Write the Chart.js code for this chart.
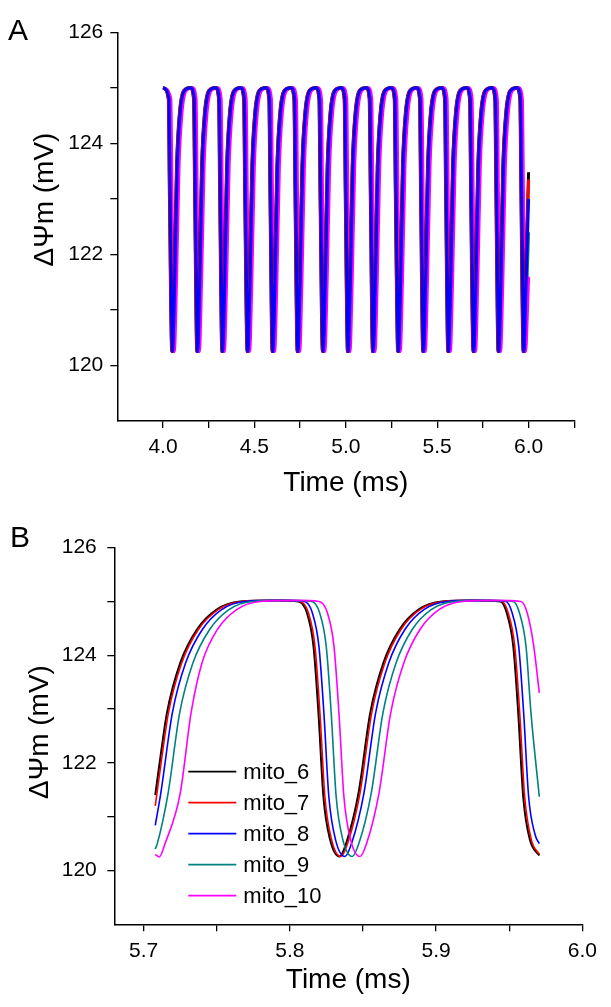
<!DOCTYPE html>
<html>
<head>
<meta charset="utf-8">
<script src="https://cdn.jsdelivr.net/npm/chart.js@4.4.1/dist/chart.umd.min.js"></script>
<style>
  html, body { margin: 0; padding: 0; background: #fff; }
  canvas { display: block; }
</style>
</head>
<body>
<canvas id="chartA" width="611" height="505"></canvas>
<canvas id="chartB" width="611" height="502"></canvas>
<script>
const seriesNames = ['mito_6', 'mito_7', 'mito_8', 'mito_9', 'mito_10'];
const seriesColors = ['#000000', '#ff0000', '#0000ff', '#008080', '#ff00ff'];
// stacking of the traces in panel A (lower = drawn on top)
const drawOrderA = [2, 1, 0, 4, 3];

const yTickVals = [120, 121, 122, 123, 124, 125, 126];
const yLabels = [120, 122, 124, 126];
const xTicksA = [4.0, 4.25, 4.5, 4.75, 5.0, 5.25, 5.5, 5.75, 6.0, 6.25];
const xTicksB = [5.7, 5.75, 5.8, 5.85, 5.9, 5.95, 6.0];

// Panel A: values (same sequence for every series), then each series' own times
const vA = [125.0, 124.8, 123.1,
  120.25, 121.5, 123.6, 124.55, 124.95, 125.0, 124.8, 123.1,
  120.25, 121.5, 123.6, 124.55, 124.95, 125.0, 124.8, 123.1,
  120.25, 121.5, 123.6, 124.55, 124.95, 125.0, 124.8, 123.1,
  120.25, 121.5, 123.6, 124.55, 124.95, 125.0, 124.8, 123.1,
  120.25, 121.5, 123.6, 124.55, 124.95, 125.0, 124.8, 123.1,
  120.25, 121.5, 123.6, 124.55, 124.95, 125.0, 124.8, 123.1,
  120.25, 121.5, 123.6, 124.55, 124.95, 125.0, 124.8, 123.1,
  120.25, 121.5, 123.6, 124.55, 124.95, 125.0, 124.8, 123.1,
  120.25, 121.5, 123.6, 124.55, 124.95, 125.0, 124.8, 123.1,
  120.25, 121.5, 123.6, 124.55, 124.95, 125.0, 124.8, 123.1,
  120.25, 121.5, 123.6, 124.55, 124.95, 125.0, 124.8, 123.1,
  120.25, 121.5, 123.6, 124.55, 124.95, 125.0, 124.8, 123.1,
  120.25, 121.5, 123.6, 124.55, 124.95, 125.0, 124.8, 123.1,
  120.25, 121.5, 123.6, 124.55, 124.95, 125.0, 124.8, 123.1,
  120.25];
// last two values of each series (end of trace at 6.0 ms)
const vTailA = [[121.5, 123.48], [121.5, 123.35], [121.5, 123.0], [121.5, 122.4], [120.9, 121.6]];

const tA6 = [4.000, 4.029, 4.035,
  4.048, 4.060, 4.074, 4.090, 4.113, 4.148, 4.167, 4.173,
  4.185, 4.197, 4.211, 4.227, 4.250, 4.285, 4.304, 4.310,
  4.322, 4.334, 4.348, 4.364, 4.387, 4.422, 4.441, 4.447,
  4.460, 4.472, 4.486, 4.502, 4.525, 4.560, 4.579, 4.585,
  4.597, 4.609, 4.623, 4.639, 4.662, 4.697, 4.716, 4.722,
  4.734, 4.746, 4.760, 4.776, 4.799, 4.834, 4.853, 4.859,
  4.872, 4.884, 4.898, 4.914, 4.937, 4.972, 4.991, 4.997,
  5.009, 5.021, 5.035, 5.051, 5.074, 5.109, 5.128, 5.134,
  5.146, 5.158, 5.172, 5.188, 5.211, 5.246, 5.265, 5.271,
  5.284, 5.296, 5.310, 5.326, 5.349, 5.384, 5.403, 5.409,
  5.421, 5.433, 5.447, 5.463, 5.486, 5.521, 5.540, 5.546,
  5.558, 5.570, 5.584, 5.600, 5.623, 5.658, 5.677, 5.683,
  5.696, 5.708, 5.722, 5.738, 5.761, 5.796, 5.815, 5.821,
  5.833, 5.845, 5.859, 5.875, 5.898, 5.933, 5.952, 5.958,
  5.970, 5.982, 6.000];
const tA7 = [4.000, 4.030, 4.036,
  4.049, 4.061, 4.075, 4.091, 4.114, 4.149, 4.168, 4.174,
  4.186, 4.198, 4.212, 4.228, 4.251, 4.286, 4.305, 4.311,
  4.323, 4.335, 4.349, 4.365, 4.388, 4.423, 4.442, 4.448,
  4.461, 4.473, 4.487, 4.503, 4.526, 4.561, 4.580, 4.586,
  4.598, 4.610, 4.624, 4.640, 4.663, 4.698, 4.717, 4.723,
  4.735, 4.747, 4.761, 4.777, 4.800, 4.835, 4.854, 4.860,
  4.873, 4.885, 4.899, 4.915, 4.938, 4.973, 4.992, 4.998,
  5.010, 5.022, 5.036, 5.052, 5.075, 5.110, 5.129, 5.135,
  5.147, 5.159, 5.173, 5.189, 5.212, 5.247, 5.266, 5.272,
  5.285, 5.297, 5.311, 5.327, 5.350, 5.385, 5.404, 5.410,
  5.422, 5.434, 5.448, 5.464, 5.487, 5.522, 5.541, 5.547,
  5.559, 5.571, 5.585, 5.601, 5.624, 5.659, 5.678, 5.684,
  5.697, 5.709, 5.723, 5.739, 5.762, 5.797, 5.816, 5.822,
  5.834, 5.846, 5.860, 5.876, 5.899, 5.934, 5.953, 5.959,
  5.971, 5.983, 6.000];
const tA8 = [4.000, 4.033, 4.039,
  4.052, 4.064, 4.078, 4.094, 4.117, 4.152, 4.171, 4.177,
  4.189, 4.201, 4.215, 4.231, 4.254, 4.289, 4.308, 4.314,
  4.326, 4.338, 4.352, 4.368, 4.391, 4.426, 4.445, 4.451,
  4.464, 4.476, 4.490, 4.506, 4.529, 4.564, 4.583, 4.589,
  4.601, 4.613, 4.627, 4.643, 4.666, 4.701, 4.720, 4.726,
  4.738, 4.750, 4.764, 4.780, 4.803, 4.838, 4.857, 4.863,
  4.876, 4.888, 4.902, 4.918, 4.941, 4.976, 4.995, 5.001,
  5.013, 5.025, 5.039, 5.055, 5.078, 5.113, 5.132, 5.138,
  5.150, 5.162, 5.176, 5.192, 5.215, 5.250, 5.269, 5.275,
  5.288, 5.300, 5.314, 5.330, 5.353, 5.388, 5.407, 5.413,
  5.425, 5.437, 5.451, 5.467, 5.490, 5.525, 5.544, 5.550,
  5.562, 5.574, 5.588, 5.604, 5.627, 5.662, 5.681, 5.687,
  5.700, 5.712, 5.726, 5.742, 5.765, 5.800, 5.819, 5.825,
  5.837, 5.849, 5.863, 5.879, 5.902, 5.937, 5.956, 5.962,
  5.974, 5.986, 6.000];
const tA9 = [4.000, 4.038, 4.044,
  4.057, 4.069, 4.083, 4.099, 4.122, 4.157, 4.176, 4.182,
  4.194, 4.206, 4.220, 4.236, 4.259, 4.294, 4.313, 4.319,
  4.331, 4.343, 4.357, 4.373, 4.396, 4.431, 4.450, 4.456,
  4.469, 4.481, 4.495, 4.511, 4.534, 4.569, 4.588, 4.594,
  4.606, 4.618, 4.632, 4.648, 4.671, 4.706, 4.725, 4.731,
  4.743, 4.755, 4.769, 4.785, 4.808, 4.843, 4.862, 4.868,
  4.881, 4.893, 4.907, 4.923, 4.946, 4.981, 5.000, 5.006,
  5.018, 5.030, 5.044, 5.060, 5.083, 5.118, 5.137, 5.143,
  5.155, 5.167, 5.181, 5.197, 5.220, 5.255, 5.274, 5.280,
  5.293, 5.305, 5.319, 5.335, 5.358, 5.393, 5.412, 5.418,
  5.430, 5.442, 5.456, 5.472, 5.495, 5.530, 5.549, 5.555,
  5.567, 5.579, 5.593, 5.609, 5.632, 5.667, 5.686, 5.692,
  5.705, 5.717, 5.731, 5.747, 5.770, 5.805, 5.824, 5.830,
  5.842, 5.854, 5.868, 5.884, 5.907, 5.942, 5.961, 5.967,
  5.979, 5.991, 6.000];
const tA10 = [4.000, 4.043, 4.049,
  4.062, 4.074, 4.088, 4.104, 4.127, 4.162, 4.181, 4.187,
  4.199, 4.211, 4.225, 4.241, 4.264, 4.299, 4.318, 4.324,
  4.336, 4.348, 4.362, 4.378, 4.401, 4.436, 4.455, 4.461,
  4.474, 4.486, 4.500, 4.516, 4.539, 4.574, 4.593, 4.599,
  4.611, 4.623, 4.637, 4.653, 4.676, 4.711, 4.730, 4.736,
  4.748, 4.760, 4.774, 4.790, 4.813, 4.848, 4.867, 4.873,
  4.886, 4.898, 4.912, 4.928, 4.951, 4.986, 5.005, 5.011,
  5.023, 5.035, 5.049, 5.065, 5.088, 5.123, 5.142, 5.148,
  5.160, 5.172, 5.186, 5.202, 5.225, 5.260, 5.279, 5.285,
  5.298, 5.310, 5.324, 5.340, 5.363, 5.398, 5.417, 5.423,
  5.435, 5.447, 5.461, 5.477, 5.500, 5.535, 5.554, 5.560,
  5.572, 5.584, 5.598, 5.614, 5.637, 5.672, 5.691, 5.697,
  5.710, 5.722, 5.736, 5.752, 5.775, 5.810, 5.829, 5.835,
  5.847, 5.859, 5.873, 5.889, 5.912, 5.947, 5.966, 5.972,
  5.984, 5.993, 6.000];

// Panel B: zoom on 5.71 - 5.97 ms
const bT6 = [5.708, 5.712, 5.716, 5.7251, 5.7365, 5.750, 5.766, 5.790, 5.806, 5.8117, 5.8162, 5.8196, 5.823, 5.8276, 5.834, 5.8385, 5.847, 5.855, 5.864, 5.875, 5.888, 5.904, 5.925, 5.944, 5.9483, 5.9528, 5.9562, 5.9596, 5.9642, 5.9706];
const bV6 = [121.4, 122.2, 122.93, 123.86, 124.48, 124.85, 125.0, 125.02, 125.0, 124.79, 124.17, 122.93, 121.37, 120.57, 120.26, 120.5, 121.44, 122.93, 123.86, 124.48, 124.85, 125.0, 125.02, 125.0, 124.79, 124.17, 122.93, 121.37, 120.57, 120.28];
const bT7 = [5.708, 5.713, 5.717, 5.7261, 5.7375, 5.751, 5.767, 5.791, 5.807, 5.8127, 5.8172, 5.8206, 5.824, 5.8286, 5.835, 5.8395, 5.848, 5.856, 5.865, 5.876, 5.889, 5.905, 5.926, 5.945, 5.9493, 5.9538, 5.9572, 5.9606, 5.9652, 5.9706];
const bV7 = [121.2, 122.2, 122.93, 123.86, 124.48, 124.85, 125.0, 125.02, 125.0, 124.79, 124.17, 122.93, 121.37, 120.57, 120.26, 120.5, 121.44, 122.93, 123.86, 124.48, 124.85, 125.0, 125.02, 125.0, 124.79, 124.17, 122.93, 121.37, 120.57, 120.3];
const bT8 = [5.708, 5.7118, 5.7197, 5.7288, 5.7402, 5.7534, 5.7694, 5.794, 5.810, 5.8154, 5.8199, 5.8233, 5.8267, 5.8313, 5.8377, 5.8422, 5.8507, 5.8587, 5.8677, 5.8787, 5.8917, 5.9077, 5.9287, 5.9477, 5.952, 5.9565, 5.9599, 5.9633, 5.9679, 5.9706];
const bV8 = [120.84, 121.44, 122.93, 123.86, 124.48, 124.85, 125.0, 125.02, 125.0, 124.79, 124.17, 122.93, 121.37, 120.57, 120.26, 120.5, 121.44, 122.93, 123.86, 124.48, 124.85, 125.0, 125.02, 125.0, 124.79, 124.17, 122.93, 121.37, 120.65, 120.5];
const bT9 = [5.708, 5.7094, 5.7168, 5.7247, 5.7338, 5.7452, 5.7584, 5.7744, 5.799, 5.815, 5.8204, 5.8249, 5.8283, 5.8317, 5.8363, 5.8427, 5.8472, 5.8557, 5.8637, 5.8727, 5.8837, 5.8967, 5.9127, 5.9337, 5.9527, 5.957, 5.9615, 5.9649, 5.9706];
const bV9 = [120.4, 120.5, 121.44, 122.93, 123.86, 124.48, 124.85, 125.0, 125.02, 125.0, 124.79, 124.17, 122.93, 121.37, 120.57, 120.26, 120.5, 121.44, 122.93, 123.86, 124.48, 124.85, 125.0, 125.02, 125.0, 124.79, 124.17, 122.93, 121.37];
const bT10 = [5.708, 5.7107, 5.7147, 5.7251, 5.7325, 5.740, 5.7505, 5.7637, 5.7797, 5.804, 5.820, 5.8257, 5.8302, 5.8336, 5.837, 5.8416, 5.848, 5.8525, 5.861, 5.869, 5.878, 5.889, 5.902, 5.918, 5.939, 5.958, 5.9623, 5.9668, 5.9706];
const bV10 = [120.3, 120.25, 120.5, 121.44, 122.93, 123.86, 124.48, 124.85, 125.0, 125.02, 125.0, 124.79, 124.17, 122.93, 121.37, 120.57, 120.26, 120.5, 121.44, 122.93, 123.86, 124.48, 124.85, 125.0, 125.02, 125.0, 124.79, 124.17, 123.3];

const FONT = '"Liberation Sans", Arial, sans-serif';

function pairs(ts, vs) {
    return ts.map((t, i) => ({x: t, y: vs[i]}));
}

// panel letter (A / B) and the rotated y title
const panelText = {
    id: 'panelText',
    afterDraw(chart, args, opts) {
        const ctx = chart.ctx;
        ctx.save();
        ctx.fillStyle = '#000';
        ctx.font = '30px ' + FONT;
        ctx.textBaseline = 'alphabetic';
        ctx.fillText(opts.letter, opts.letterX, opts.letterY);
        ctx.translate(opts.titleX, opts.titleY);
        ctx.rotate(-Math.PI / 2);
        ctx.font = '28px ' + FONT;
        ctx.textAlign = 'center';
        ctx.textBaseline = 'middle';
        ctx.fillText('ΔΨm (mV)', 0, 0);
        ctx.restore();
    }
};

// legend drawn inside the plot area of panel B
const insideLegend = {
    id: 'insideLegend',
    afterDatasetsDraw(chart, args, opts) {
        if (!opts.show) return;
        const ctx = chart.ctx;
        const area = chart.chartArea;
        ctx.save();
        ctx.font = '22px ' + FONT;
        ctx.textBaseline = 'middle';
        chart.data.datasets.forEach((ds, i) => {
            const y = area.top + 224 + i * 31;
            const x0 = area.left + 74;
            ctx.strokeStyle = ds.borderColor;
            ctx.lineWidth = 1.8;
            ctx.beginPath();
            ctx.moveTo(x0, y);
            ctx.lineTo(x0 + 48, y);
            ctx.stroke();
            ctx.fillStyle = '#000';
            ctx.fillText(ds.label, x0 + 55, y + 1);
        });
        ctx.restore();
    }
};

function axisStyle() {
    return {
        grid: { drawOnChartArea: false, drawTicks: true, tickLength: 7, color: '#000', lineWidth: 1.3 },
        border: { display: true, color: '#000', width: 1.5 }
    };
}

function yAxis(width, pad) {
    return {
        type: 'linear',
        min: 119,
        max: 126,
        afterBuildTicks: scale => { scale.ticks = yTickVals.map(v => ({value: v})); },
        afterFit: scale => { scale.width = width; },
        ticks: {
            autoSkip: false,
            padding: pad,
            color: '#000',
            font: { family: FONT, size: 21 },
            callback: v => yLabels.includes(v) ? String(v) : ''
        },
        ...axisStyle()
    };
}

// Panel A
const timesA = [tA6, tA7, tA8, tA9, tA10];
new Chart(document.getElementById('chartA').getContext('2d'), {
    type: 'scatter',
    data: {
        datasets: seriesNames.map((name, s) => ({
            label: name,
            data: pairs(timesA[s], vA.concat(vTailA[s])),
            showLine: true,
            borderColor: seriesColors[s],
            borderWidth: 3,
            pointRadius: 0,
            cubicInterpolationMode: 'monotone',
            order: drawOrderA[s]
        }))
    },
    options: {
        responsive: false,
        animation: false,
        layout: { padding: { left: 0, top: 32.3, right: 36.7, bottom: 0 } },
        plugins: {
            legend: { display: false },
            tooltip: { enabled: false },
            panelText: { letter: 'A', letterX: 8, letterY: 40, titleX: 45, titleY: 199.5 },
            insideLegend: { show: false }
        },
        scales: {
            x: {
                type: 'linear',
                min: 3.75,
                max: 6.25,
                afterBuildTicks: scale => { scale.ticks = xTicksA.map(v => ({value: v})); },
                afterFit: scale => { scale.height = 84; },
                ticks: {
                    autoSkip: false,
                    maxRotation: 0,
                    padding: 6.6,
                    color: '#000',
                    font: { family: FONT, size: 21 },
                    callback: v => Math.abs(v * 2 - Math.round(v * 2)) < 1e-6 ? v.toFixed(1) : ''
                },
                title: { display: true, text: 'Time (ms)', color: '#000', font: { family: FONT, size: 28 }, padding: { top: 0, bottom: 5 } },
                ...axisStyle()
            },
            y: yAxis(117.3, 7)
        }
    },
    plugins: [panelText, insideLegend]
});

// Panel B
const timesB = [bT6, bT7, bT8, bT9, bT10];
const valuesB = [bV6, bV7, bV8, bV9, bV10];
new Chart(document.getElementById('chartB').getContext('2d'), {
    type: 'scatter',
    data: {
        datasets: seriesNames.map((name, s) => ({
            label: name,
            data: pairs(timesB[s], valuesB[s]),
            showLine: true,
            borderColor: seriesColors[s],
            borderWidth: s === 0 ? 2 : 1.6,
            pointRadius: 0,
            cubicInterpolationMode: 'monotone',
            order: 4 - s
        }))
    },
    options: {
        responsive: false,
        animation: false,
        layout: { padding: { left: 0, top: 42.7, right: 28.7, bottom: 0 } },
        plugins: {
            legend: { display: false },
            tooltip: { enabled: false },
            panelText: { letter: 'B', letterX: 10, letterY: 41.7, titleX: 40.3, titleY: 227 },
            insideLegend: { show: true }
        },
        scales: {
            x: {
                type: 'linear',
                min: 5.68,
                max: 6.0,
                afterBuildTicks: scale => { scale.ticks = xTicksB.map(v => ({value: v})); },
                afterFit: scale => { scale.height = 82.7; },
                ticks: {
                    autoSkip: false,
                    maxRotation: 0,
                    padding: 7.3,
                    color: '#000',
                    font: { family: FONT, size: 21 },
                    callback: v => Math.abs(v * 10 - Math.round(v * 10)) < 1e-6 ? v.toFixed(1) : ''
                },
                title: { display: true, text: 'Time (ms)', color: '#000', font: { family: FONT, size: 28 }, padding: { top: 0, bottom: 10 } },
                ...axisStyle()
            },
            y: yAxis(114.3, 10.5)
        }
    },
    plugins: [panelText, insideLegend]
});
</script>
</body>
</html>
